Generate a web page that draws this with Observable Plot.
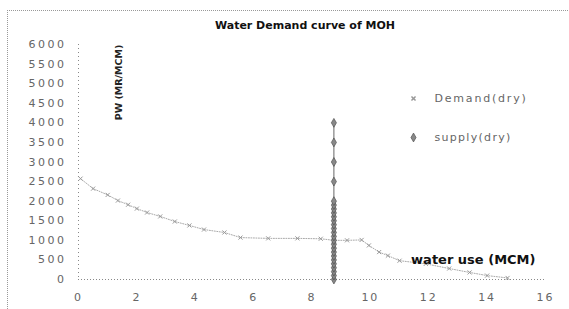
<!DOCTYPE html>
<html><head><meta charset="utf-8">
<script src="https://cdn.jsdelivr.net/npm/d3@7"></script>
<script src="https://cdn.jsdelivr.net/npm/@observablehq/plot@0.6"></script>
<style>
body{margin:0;background:#fff;}
#wrap{position:relative;width:569px;height:309px;}
#frame{position:absolute;left:7px;top:10px;width:569px;height:309px;border-left:1px dotted #999;border-top:1px dotted #999;box-sizing:border-box;pointer-events:none;}
</style></head>
<body><div id="wrap"><div id="frame"></div></div>
<script>
const demandX = [0.07, 0.5, 1.0, 1.35, 1.7, 2.0, 2.35, 2.8, 3.3, 3.8, 4.3, 5.0, 5.55, 6.5, 7.5, 8.3, 8.75, 9.2, 9.7, 9.95, 10.3, 10.6, 11.0, 11.9, 12.7, 13.4, 14.0, 14.7];
const demandY = [2575, 2320, 2160, 2015, 1910, 1810, 1710, 1610, 1480, 1380, 1275, 1200, 1070, 1050, 1050, 1040, 1000, 1000, 1010, 870, 700, 610, 480, 400, 280, 180, 100, 40];
const supplyX = 8.75;
const supplyY = [0,100,200,300,400,500,600,700,800,900,1000,1100,1200,1300,1400,1500,1600,1700,1800,1900,2000,2500,3000,3500,4000];
const xTicks = [0,2,4,6,8,10,12,14,16];
const yTicks = [0,500,1000,1500,2000,2500,3000,3500,4000,4500,5000,5500,6000];
const seriesNames = ["Demand(dry)", "supply(dry)"];
const titleText = "Water Demand curve of MOH";
const xLabel = "water use (MCM)";
const yLabel = "PW (MR/MCM)";

const demand = demandX.map((x,i)=>({x, y: demandY[i]}));
const supply = supplyY.map(y=>({x: supplyX, y}));

const plot = Plot.plot({
  width: 569, height: 309,
  marginLeft: 78, marginRight: 24, marginTop: 44, marginBottom: 30,
  style: {fontFamily: "DejaVu Sans, sans-serif", fontSize: "11px", color: "#666", background: "transparent"},
  x: {domain: [0,16], ticks: xTicks, tickSize: 0, tickPadding: 14, label: null, tickFormat: d => String(d)},
  y: {domain: [0,6000], ticks: yTicks, tickSize: 0, tickPadding: 12, label: null, tickFormat: d => String(d)},
  marks: [
    Plot.ruleY([0], {stroke: "#888", strokeDasharray: "1,2"}),
    Plot.ruleX([0], {stroke: "#888", strokeDasharray: "1,3"}),
    Plot.line(demand, {x: "x", y: "y", stroke: "#aaa", strokeWidth: 1, strokeDasharray: "1,1.5"}),
    Plot.dot(demand, {x: "x", y: "y", symbol: "times", r: 2, stroke: "#999", strokeWidth: 1}),
    Plot.line(supply, {x: "x", y: "y", stroke: "#666", strokeWidth: 1}),
    Plot.dot(supply, {x: "x", y: "y", symbol: "diamond", r: 2.7, fill: "#888", stroke: "#444", strokeWidth: 0.6}),
    Plot.text([titleText], {text: d=>d, frameAnchor: "top", dx: -7, dy: -23, fontWeight: "bold", fontSize: 11, fill: "#111"}),
    Plot.text([xLabel], {text: d=>d, frameAnchor: "bottom-right", dx: -10, dy: -20, textAnchor: "end", lineAnchor: "middle", fontWeight: "bold", fontSize: 13, fill: "#111"}),
    Plot.text([yLabel], {text: d=>d, frameAnchor: "top-left", dx: 40, dy: 38, rotate: -90, textAnchor: "middle", lineAnchor: "middle", fontWeight: "bold", fontSize: 9.5, fill: "#222"}),
    Plot.dot([seriesNames[0]], {frameAnchor: "top-right", dx: -132, dy: 54, symbol: "times", r: 2, stroke: "#999"}),
    Plot.text([seriesNames[0]], {text: d=>d, frameAnchor: "top-right", dx: -111, dy: 54, textAnchor: "start", lineAnchor: "middle", fontSize: 11, fill: "#666"}),
    Plot.dot([seriesNames[1]], {frameAnchor: "top-right", dx: -132, dy: 93, symbol: "diamond", r: 2.7, fill: "#888", stroke: "#444", strokeWidth: 0.6}),
    Plot.text([seriesNames[1]], {text: d=>d, frameAnchor: "top-right", dx: -111, dy: 93, textAnchor: "start", lineAnchor: "middle", fontSize: 11, fill: "#666"})
  ]
});
const xLabels = new Set(xTicks.map(String));
const yLabels = new Set(yTicks.map(String));
plot.querySelectorAll("text").forEach(t => {
  const s = t.textContent;
  if (s === seriesNames[0]) t.style.letterSpacing = "1.8px";
  else if (s === seriesNames[1]) t.style.letterSpacing = "1.3px";
  else if (yLabels.has(s) && t.closest("g[aria-label*='y-axis']")) t.style.letterSpacing = "2.5px";
  else if (xLabels.has(s) && t.closest("g[aria-label*='x-axis']")) t.style.letterSpacing = "2px";
});
document.getElementById("wrap").prepend(plot);
</script></body></html>
